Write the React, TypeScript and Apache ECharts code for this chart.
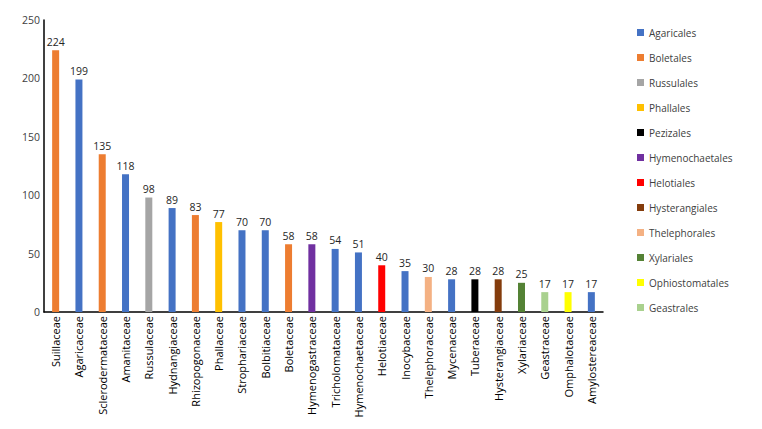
import React, { useEffect, useRef } from "react";
import * as echarts from "echarts";

const categories = [
  "Suillaceae", "Agaricaceae", "Sclerodermataceae", "Amanitaceae", "Russulaceae",
  "Hydnangiaceae", "Rhizopogonaceae", "Phallaceae", "Strophariaceae", "Bolbitiaceae",
  "Boletaceae", "Hymenogastraceae", "Tricholomataceae", "Hymenochaetaceae", "Helotiaceae",
  "Inocybaceae", "Thelephoraceae", "Mycenaceae", "Tuberaceae", "Hysterangiaceae",
  "Xylariaceae", "Geastraceae", "Omphalotaceae", "Amylostereaceae",
];
const values = [224, 199, 135, 118, 98, 89, 83, 77, 70, 70, 58, 58, 54, 51, 40, 35, 30, 28, 28, 28, 25, 17, 17, 17];
const barOrder = [
  "Boletales", "Agaricales", "Boletales", "Agaricales", "Russulales",
  "Agaricales", "Boletales", "Phallales", "Agaricales", "Agaricales",
  "Boletales", "Hymenochaetales", "Agaricales", "Agaricales", "Helotiales",
  "Agaricales", "Thelephorales", "Agaricales", "Pezizales", "Hysterangiales",
  "Xylariales", "Geastrales", "Ophiostomatales", "Agaricales",
];
const orders = [
  "Agaricales", "Boletales", "Russulales", "Phallales", "Pezizales", "Hymenochaetales",
  "Helotiales", "Hysterangiales", "Thelephorales", "Xylariales", "Ophiostomatales", "Geastrales",
];
const orderColors = [
  "#4472C4", "#ED7D31", "#A5A5A5", "#FFC000", "#000000", "#7030A0",
  "#FF0000", "#843C0C", "#F4B183", "#548235", "#FFFF00", "#A9D18E",
];
const yTicks = { min: 0, max: 250, interval: 50 };

export default function App() {
  const ref = useRef<HTMLDivElement>(null);
  useEffect(() => {
    if (!ref.current) return;
    const chart = echarts.init(ref.current, null, { renderer: "svg" });
    const font = "'Open Sans', sans-serif";
    const series = orders.map((o, i) => ({
      name: o,
      type: "bar",
      stack: "all",
      barWidth: 7,
      itemStyle: { color: orderColors[i] },
      label: {
        show: true,
        position: "top",
        distance: 3,
        color: "#262626",
        fontFamily: font,
        fontSize: 10.5,
      },
      data: values.map((v, j) => (barOrder[j] === o ? v : null)),
    }));
    chart.setOption({
      animation: false,
      textStyle: { fontFamily: font },
      grid: { left: 44, top: 20, right: 159, bottom: 117, containLabel: false },
      legend: {
        orient: "vertical",
        left: 637,
        top: 27,
        padding: 0,
        icon: "path://M0,0h10v10h-10z",
        itemWidth: 7,
        itemHeight: 7,
        itemGap: 14,
        itemTextGap: 2,
        itemStyle: { borderWidth: 0 },
        textStyle: { fontFamily: font, fontSize: 10, color: "#404040", lineHeight: 11 },
        data: orders,
      },
      xAxis: {
        type: "category",
        data: categories,
        axisLine: { lineStyle: { color: "#000", width: 1.5 } },
        axisTick: { show: false },
        axisLabel: {
          rotate: 90,
          interval: 0,
          margin: 4,
          color: "#000",
          fontFamily: font,
          fontSize: 11,
        },
      },
      yAxis: {
        type: "value",
        min: yTicks.min,
        max: yTicks.max,
        interval: yTicks.interval,
        axisLine: { show: true, lineStyle: { color: "#000", width: 1.5 } },
        axisTick: { show: false },
        splitLine: { show: false },
        axisLabel: { color: "#404040", fontFamily: font, fontSize: 10.5, margin: 4 },
      },
      series,
    });
    return () => chart.dispose();
  }, []);
  return <div ref={ref} style={{ position: "fixed", left: 0, top: 0, width: 762, height: 429, background: "#fff" }} />;
}
